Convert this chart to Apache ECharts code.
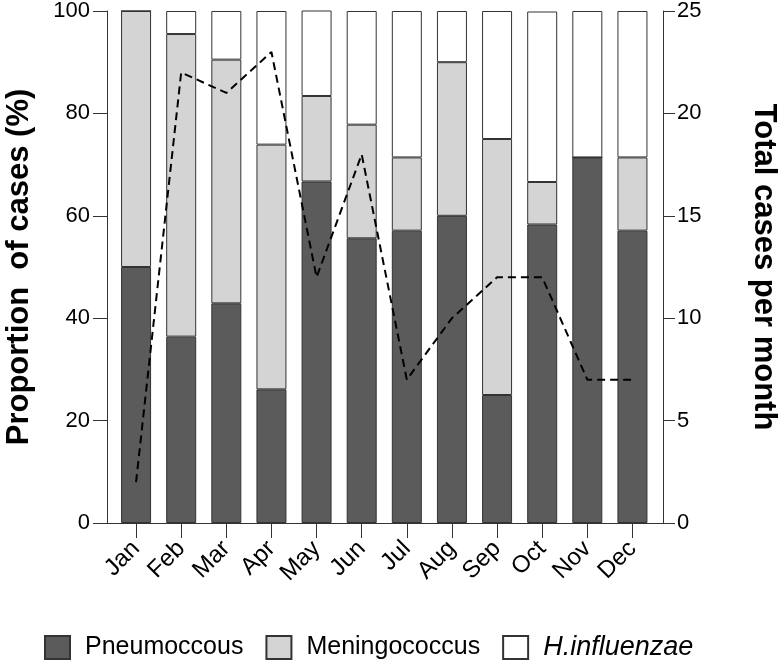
<!DOCTYPE html>
<html>
<head>
<meta charset="utf-8">
<script src="https://cdn.jsdelivr.net/npm/echarts@6/dist/echarts.min.js"></script>
<style>html,body{margin:0;padding:0;background:#fff}#c{width:780px;height:662px}</style>
</head>
<body>
<div id="c"></div>
<script>
var months = ['Jan','Feb','Mar','Apr','May','Jun','Jul','Aug','Sep','Oct','Nov','Dec'];
var pneumococcus = [50, 36.4, 42.9, 26.1, 66.7, 55.6, 57.1, 60, 25, 58.3, 71.4, 57.1];
var meningococcus = [50, 59.1, 47.6, 47.8, 16.7, 22.2, 14.3, 30, 50, 8.3, 0, 14.3];
var hinfluenzae = [0, 4.5, 9.5, 26.1, 16.7, 22.2, 28.6, 10, 25, 33.3, 28.6, 28.6];
var totalCases = [2, 22, 21, 23, 12, 18, 7, 10, 12, 12, 7, 7];
var leftTicks = {min: 0, max: 100, interval: 20};
var rightTicks = {min: 0, max: 25, interval: 5};

var FONT = "'Liberation Sans', Arial, Helvetica, sans-serif";
var chart = echarts.init(document.getElementById('c'), null, {renderer: 'canvas'});
function border() { return {borderColor: '#333', borderWidth: 1}; }
function ls() { return {color: '#333', width: 1}; }

chart.setOption({
  animation: false,
  backgroundColor: '#fff',
  grid: [
    {left: 107, right: 117, top: 11, bottom: 139, outerBoundsMode: 'none', containLabel: false},
    {left: 113.5, right: 125, top: 11, bottom: 139, outerBoundsMode: 'none', containLabel: false}
  ],
  legend: {
    left: 44, top: 634, padding: 0,
    icon: 'rect',
    itemWidth: 25, itemHeight: 23, itemGap: 22,
    textStyle: {fontFamily: FONT, fontSize: 25, color: '#000', padding: [0,0,0,10],
      rich: {i: {fontFamily: FONT, fontSize: 27, fontStyle: 'italic', color: '#000'}}},
    formatter: function (n) { return n === 'H.influenzae' ? '{i|' + n + '}' : n; },
    data: ['Pneumoccous', 'Meningococcus', 'H.influenzae']
  },
  xAxis: [
    {type: 'value', gridIndex: 0, min: 0, max: 1, axisLine: {show: true, lineStyle: ls()},
      axisTick: {show: false}, axisLabel: {show: false}, splitLine: {show: false}},
    {type: 'category', gridIndex: 1, data: months, boundaryGap: true,
      axisLine: {show: true, lineStyle: {color: 'rgba(0,0,0,0)', width: 0}},
      axisTick: {show: true, alignWithLabel: true, length: 15, lineStyle: {color: '#333', width: 1}},
      axisLabel: {rotate: 45, margin: 22, fontFamily: FONT, fontSize: 24, color: '#000', interval: 0},
      splitLine: {show: false}}
  ],
  yAxis: [
    {type: 'value', gridIndex: 0, position: 'left', min: leftTicks.min, max: leftTicks.max, interval: leftTicks.interval,
      name: 'Proportion  of cases (%)', nameLocation: 'middle', nameGap: 72, nameRotate: 90,
      nameTextStyle: {fontFamily: FONT, fontSize: 31, fontWeight: 'bold', color: '#000'},
      axisLine: {show: true, lineStyle: ls()},
      axisTick: {show: true, length: 14, lineStyle: {color: '#333', width: 1}},
      axisLabel: {margin: 17, fontFamily: FONT, fontSize: 22, color: '#000'},
      splitLine: {show: false}},
    {type: 'value', gridIndex: 0, position: 'right', min: rightTicks.min, max: rightTicks.max, interval: rightTicks.interval,
      name: 'Total cases per month', nameLocation: 'middle', nameGap: 85, nameRotate: -90,
      nameTextStyle: {fontFamily: FONT, fontSize: 31, fontWeight: 'bold', color: '#000'},
      axisLine: {show: true, lineStyle: ls()},
      axisTick: {show: true, length: 12, lineStyle: {color: '#333', width: 1}},
      axisLabel: {margin: 14, fontFamily: FONT, fontSize: 22, color: '#000'},
      splitLine: {show: false}},
    {type: 'value', gridIndex: 1, show: false, min: leftTicks.min, max: leftTicks.max},
    {type: 'value', gridIndex: 1, show: false, min: rightTicks.min, max: rightTicks.max}
  ],
  series: [
    {name: 'Pneumoccous', type: 'bar', stack: 'p', xAxisIndex: 1, yAxisIndex: 2, barWidth: 30,
      itemStyle: Object.assign({color: '#5b5b5b'}, border()), data: pneumococcus},
    {name: 'Meningococcus', type: 'bar', stack: 'p', xAxisIndex: 1, yAxisIndex: 2, barWidth: 30,
      itemStyle: Object.assign({color: '#d4d4d4'}, border()), data: meningococcus},
    {name: 'H.influenzae', type: 'bar', stack: 'p', xAxisIndex: 1, yAxisIndex: 2, barWidth: 30,
      itemStyle: Object.assign({color: '#ffffff'}, border()), data: hinfluenzae},
    {name: 'Total', type: 'line', xAxisIndex: 1, yAxisIndex: 3, data: totalCases,
      symbol: 'none', lineStyle: {color: '#000', width: 2, type: [8, 5]}, z: 5}
  ]
});
</script>
</body>
</html>
